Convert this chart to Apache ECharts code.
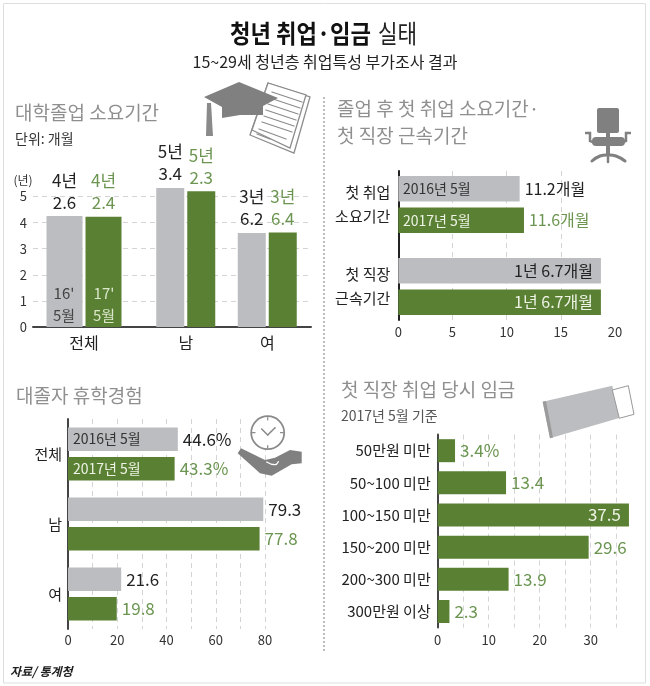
<!DOCTYPE html>
<html><head><meta charset="utf-8">
<style>html,body{margin:0;padding:0;background:#fff}#c{width:650px;height:686px}</style>
<script src="https://cdn.jsdelivr.net/npm/echarts@6/dist/echarts.min.js"></script>
</head><body><div id="c"></div>
<script>
const FONT = '"Noto Sans CJK KR","Noto Sans",sans-serif';
const GRAY = '#bcbdc0', GREEN = '#5a8034', GTEXT = '#6b9550', DARK = '#222', TITLE = '#8f8f8f';

// Panel 1: time to graduate (years)
const gradCatA = ['전체'];
const gradCatB = ['남', '여'];
const grad16A = [4.25];
const grad17A = [4.22];
const grad16B = [5.33, 3.6];
const grad17B = [5.2, 3.62];
const gradLabel16A = ['4년\n2.6'];
const gradLabel17A = ['4년\n2.4'];
const gradLabel16B = ['5년\n3.4', '3년\n6.2'];
const gradLabel17B = ['5년\n2.3', '3년\n6.4'];

// Panel 2: first job (months)
const jobCats = ['첫 취업\n소요기간', '첫 직장\n근속기간'];
const job16 = [11.2, 18.7];
const job17 = [11.6, 18.7];
const jobLabel16 = ['11.2개월', '1년 6.7개월'];
const jobLabel17 = ['11.6개월', '1년 6.7개월'];

// Panel 3: leave of absence (%)
const leaveCats = ['전체', '남', '여'];
const leave16 = [44.6, 79.3, 21.6];
const leave17 = [43.3, 77.8, 19.8];
const leaveLabel16 = ['44.6%', '79.3', '21.6'];
const leaveLabel17 = ['43.3%', '77.8', '19.8'];

// Panel 4: first wage (%)
const wageCats = ['50만원 미만', '50~100 미만', '100~150 미만', '150~200 미만', '200~300 미만', '300만원 이상'];
const wage = [3.4, 13.4, 37.5, 29.6, 13.9, 2.3];
const wageLabel = ['3.4%', '13.4', '37.5', '29.6', '13.9', '2.3'];

const dash = {show: true, lineStyle: {color: '#d4d4d4', type: [5, 4], width: 1}, showMinLine: false, showMaxLine: false};
const tickText = {color: '#333', fontSize: 13, fontFamily: FONT};
const hiddenValue = (min, max, gridIndex) => ({type: 'value', gridIndex, min, max, show: false});

function barLabel(labels, color, size, insideIdx, insideColor, dist) {
  return (v, i) => {
    const inside = insideIdx === i;
    return {
      value: v,
      label: {
        show: true,
        formatter: labels[i],
        position: inside ? 'insideRight' : 'right',
        distance: inside ? 8 : (dist || 5),
        color: inside ? insideColor : color,
        fontSize: size, fontFamily: FONT
      }
    };
  };
}
function colBar(xi, yi, data, labels, color, textColor, width) {
  return {
    type: 'bar', xAxisIndex: xi, yAxisIndex: yi, data, barWidth: width, barGap: 3 / width,
    itemStyle: {color},
    label: {show: true, position: 'top', distance: 3, color: textColor, fontSize: 17, lineHeight: 22, fontFamily: FONT,
      formatter: p => labels[p.dataIndex]}
  };
}
function rowBar(xi, yi, values, labels, color, textColor, width, gap, size, insideIdx) {
  return {
    type: 'bar', xAxisIndex: xi, yAxisIndex: yi, barWidth: width, barGap: gap,
    itemStyle: {color},
    data: values.map(barLabel(labels, textColor, size, insideIdx, color === GREEN ? '#eef3e6' : DARK))
  };
}

const grids = [
  {left: 33, width: 278, top: 186.06, height: 140.94},
  {left: 33, width: 102, top: 186.06, height: 140.94},
  {left: 145, width: 163, top: 186.06, height: 140.94},
  {left: 398.3, width: 216.7, top: 171, height: 149},
  {left: 398.3, width: 216.7, top: 163.5, height: 164},
  {left: 68, width: 197, top: 419, height: 210},
  {left: 437.7, width: 193.8, top: 434.6, height: 193}
];
const xAxes = [
  {type: 'value', gridIndex: 0, min: 0, max: 1, axisLabel: {show: false}, axisTick: {show: false}, splitLine: {show: false},
    axisLine: {show: true, lineStyle: {color: '#444', width: 2}}},
  {type: 'category', gridIndex: 1, data: gradCatA, axisLine: {show: false}, axisTick: {show: false},
    axisLabel: {color: DARK, fontSize: 16, margin: 8, fontFamily: FONT}},
  {type: 'category', gridIndex: 2, data: gradCatB, axisLine: {show: false}, axisTick: {show: false},
    axisLabel: {color: DARK, fontSize: 16, margin: 8, fontFamily: FONT}},
  {type: 'value', gridIndex: 3, min: 0, max: 20, interval: 5, axisLine: {show: false}, axisTick: {show: false}, splitLine: dash,
    axisLabel: Object.assign({margin: 6}, tickText)},
  hiddenValue(0, 20, 4),
  {type: 'value', gridIndex: 5, min: 0, max: 80, interval: 10, axisLine: {show: false}, axisTick: {show: false},
    splitLine: Object.assign({}, dash, {showMaxLine: true}),
    axisLabel: Object.assign({margin: 5, formatter: v => v % 20 === 0 ? String(v) : ''}, tickText)},
  {type: 'value', gridIndex: 6, min: 0, max: 38, interval: 5, axisLine: {show: false}, axisTick: {show: false}, splitLine: dash,
    axisLabel: Object.assign({margin: 6, showMaxLabel: false, formatter: v => v % 10 === 0 ? String(v) : ''}, tickText)}
];
const yAxes = [
  {type: 'value', gridIndex: 0, min: 0, max: 5.4, interval: 1, axisLine: {show: false}, axisTick: {show: false}, splitLine: dash,
    axisLabel: Object.assign({margin: 6, showMaxLabel: false, formatter: v => Number.isInteger(v) ? String(v) : ''}, tickText)},
  hiddenValue(0, 5.4, 1),
  hiddenValue(0, 5.4, 2),
  {type: 'value', gridIndex: 3, min: 0, max: 1, axisLabel: {show: false}, axisTick: {show: false}, splitLine: {show: false},
    axisLine: {show: true, lineStyle: {color: '#222', width: 2}}},
  {type: 'category', gridIndex: 4, inverse: true, data: jobCats, axisLine: {show: false}, axisTick: {show: false},
    axisLabel: {color: DARK, fontSize: 15, lineHeight: 24, margin: 8, align: 'right', padding: [4, 0, 0, 0], fontFamily: FONT}},
  {type: 'category', gridIndex: 5, inverse: true, data: leaveCats, axisTick: {show: false},
    axisLine: {show: true, lineStyle: {color: '#444', width: 2}},
    axisLabel: {color: DARK, fontSize: 15, margin: 6, padding: [3, 0, 0, 0], fontFamily: FONT}},
  {type: 'category', gridIndex: 6, inverse: true, data: wageCats, axisTick: {show: false},
    axisLine: {show: true, lineStyle: {color: '#444', width: 2}},
    axisLabel: {color: DARK, fontSize: 15, margin: 7, fontFamily: FONT}}
];
const series = [
  colBar(1, 1, grad16A, gradLabel16A, GRAY, DARK, 36),
  colBar(1, 1, grad17A, gradLabel17A, GREEN, GTEXT, 36),
  colBar(2, 2, grad16B, gradLabel16B, GRAY, DARK, 28),
  colBar(2, 2, grad17B, gradLabel17B, GREEN, GTEXT, 28),
  rowBar(4, 4, job16, jobLabel16, GRAY, DARK, 25.5, '24%', 16, 1),
  rowBar(4, 4, job17, jobLabel17, GREEN, GTEXT, 25.5, '24%', 16, 1),
  rowBar(5, 5, leave16, leaveLabel16, GRAY, DARK, 23.5, '25%', 17, -1),
  rowBar(5, 5, leave17, leaveLabel17, GREEN, GTEXT, 23.5, '25%', 17, -1),
  rowBar(6, 6, wage, wageLabel, GREEN, GTEXT, 23, '0%', 17, 2)
];

// Text placed with graphic elements
function t(x, y, text, size, fill, extra, scaleX) {
  return {type: 'text', z: 50, x, y, scaleX: scaleX || 1, style: Object.assign({text, fontSize: size, fill, fontFamily: FONT,
    textAlign: 'left', textVerticalAlign: 'middle'}, extra || {})};
}
function poly(points, fill, extra) {
  return {type: 'polygon', z: 40, shape: {points}, style: Object.assign({fill}, extra || {})};
}
function line(x1, y1, x2, y2, stroke, lineWidth) {
  return {type: 'line', z: 40, shape: {x1, y1, x2, y2}, style: {stroke, lineWidth, lineCap: 'round'}};
}
function curve(points, stroke, lineWidth) {
  return {type: 'polyline', z: 41, shape: {points, smooth: 0.5}, style: {stroke, lineWidth, fill: null, lineCap: 'round'}};
}
const ICON = '#808080';
const paperLines = [];
for (const [a, b, c, d] of [[272,92,302,102],[270,98,300,108],[268,104,298,114],[266,110,296,120],[264,116,294,126],[262,122,292,132],[259,129,286,139],[257,134,270,139]]) {
  paperLines.push(line(a, b, c, d, '#8c8c8c', 1.3));
}
const graphics = [
  {type: 'rect', z: 1, shape: {x: 3.5, y: 3.5, width: 642, height: 679.5}, style: {fill: null, stroke: '#dedede', lineWidth: 1}},
  {type: 'line', z: 1, shape: {x1: 324, y1: 97, x2: 324, y2: 652}, style: {stroke: '#bdbdbd', lineWidth: 2, lineDash: [2, 2]}},
  t(230, 33, '청년 취업·임금', 25, '#111', {fontWeight: 'bold'}, 0.89),
  t(378, 33, '실태', 25, '#222', null, 0.85),
  t(325, 62, '15~29세 청년층 취업특성 부가조사 결과', 16, '#222', {textAlign: 'center'}),
  t(15, 113, '대학졸업 소요기간', 19, TITLE),
  t(15, 139, '단위: 개월', 14, '#333'),
  t(337, 109, '졸업 후 첫 취업 소요기간·', 19, TITLE),
  t(337, 136, '첫 직장 근속기간', 19, TITLE),
  t(16, 396, '대졸자 휴학경험', 19, TITLE),
  t(341, 390, '첫 직장 취업 당시 임금', 19, TITLE),
  t(341, 416, '2017년 5월 기준', 14, '#555'),
  t(10, 671, '자료/ 통계청', 12, '#222', {fontWeight: 'bold', fontStyle: 'italic'}),
  t(23, 180, '(년)', 12, '#333', {textAlign: 'center'}),
  t(64, 304.5, "16'\n5월", 15, '#444', {textAlign: 'center', lineHeight: 22}),
  t(104, 304.5, "17'\n5월", 15, '#dbe7cb', {textAlign: 'center', lineHeight: 22}),
  t(403, 189, '2016년 5월', 14, '#333'),
  t(403, 220.5, '2017년 5월', 14, '#eef3e6'),
  t(73, 439, '2016년 5월', 14, '#333'),
  t(73, 468.5, '2017년 5월', 14, '#eef3e6'),
  // graduation cap and papers
  poly([[268,83],[310,97],[294,153],[250,135]], '#fff', {stroke: '#8c8c8c', lineWidth: 1.3}),
  poly([[268,83],[306,95],[290,148],[252,130]], '#fff', {stroke: '#8c8c8c', lineWidth: 1.3}),
  ...paperLines,
  poly([[204,97],[239,82],[278,98],[263,106],[263,115],[240,115],[222,118],[222,107]], ICON),
  poly([[207,103],[211,103],[213,136],[206,136]], '#8a8a8a'),
  // chair
  {type: 'rect', z: 40, shape: {x: 597, y: 108, width: 22, height: 25, r: 2}, style: {fill: ICON}},
  {type: 'rect', z: 40, shape: {x: 592, y: 137, width: 33, height: 9, r: 4}, style: {fill: ICON}},
  {type: 'rect', z: 40, shape: {x: 606, y: 132, width: 4, height: 24}, style: {fill: ICON}},
  {type: 'polyline', z: 40, shape: {points: [[585,133],[590,133],[590,141],[595,143]]}, style: {stroke: ICON, lineWidth: 2.5, fill: null}},
  {type: 'polyline', z: 40, shape: {points: [[631,133],[626,133],[626,141],[621,143]]}, style: {stroke: ICON, lineWidth: 2.5, fill: null}},
  curve([[592,161],[600,156],[608,155]], ICON, 3),
  curve([[625,161],[616,156],[608,155]], ICON, 3),
  line(608, 155, 608, 162, ICON, 2.5),
  // clock on a hand
  {type: 'circle', z: 40, shape: {cx: 267.7, cy: 432.7, r: 16.5}, style: {fill: '#fff', stroke: '#8a8a8a', lineWidth: 1.8}},
  line(261.7, 429, 267.7, 435, '#8a8a8a', 1.6),
  line(267.7, 435, 275, 427.7, '#8a8a8a', 1.6),
  line(267.7, 417.5, 267.7, 420, '#8a8a8a', 1.2),
  line(267.7, 445.5, 267.7, 448, '#8a8a8a', 1.2),
  line(252.5, 432.7, 255, 432.7, '#8a8a8a', 1.2),
  line(280.5, 432.7, 283, 432.7, '#8a8a8a', 1.2),
  poly([[237.7,453.3],[241,448.3],[253.3,454.3],[265,460],[275,457.7],[290,450],[301.7,451.7],[301.7,463.3],[291.7,464.3],[271.7,475.7],[260,473.3]], ICON),
  curve([[266.7,462],[275,464.7],[278.3,461.7]], '#fff', 1.3),
  // envelope
  poly([[542.7,401.7],[612.3,385.7],[620,417.7],[550,438.3]], '#bcbdc0'),
  poly([[542.7,401.7],[546,401],[553,437.5],[550,438.3]], '#9b9b9b'),
  poly([[612.3,390],[628.3,385.7],[634,414.3],[619.3,418.3]], '#fff', {stroke: '#999', lineWidth: 1})
];

const chart = echarts.init(document.getElementById('c'), null, {renderer: 'canvas'});
chart.setOption({
  animation: false, backgroundColor: '#fff', textStyle: {fontFamily: FONT},
  grid: grids, xAxis: xAxes, yAxis: yAxes, series, graphic: graphics
});
</script></body></html>
